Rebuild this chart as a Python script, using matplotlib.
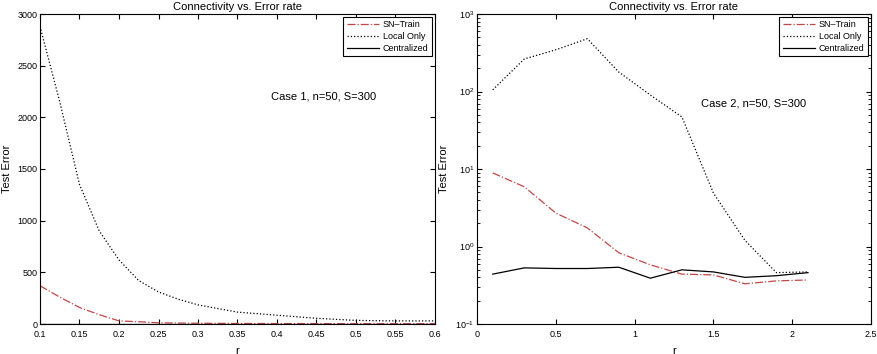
import numpy as np
import matplotlib
matplotlib.use("Agg")
from matplotlib import pyplot as plt

# case 1 (linear y)
r1 = [0.1, 0.125, 0.15, 0.175, 0.2, 0.225, 0.25, 0.275, 0.3, 0.325, 0.35,
      0.375, 0.4, 0.425, 0.45, 0.475, 0.5, 0.525, 0.55, 0.575, 0.6]
sn1 = [370, 260, 160, 90, 30, 22, 12, 9, 7, 6, 5, 5, 4, 4, 4, 3, 3, 3, 3, 3, 3]
local1 = [2880, 2150, 1350, 900, 620, 420, 310, 240, 185, 150, 115,
          100, 85, 70, 55, 45, 35, 32, 30, 30, 30]
cent1 = [3, 3, 3, 3, 3, 3, 3, 3, 3, 3, 3, 3, 3, 3, 3, 3, 3, 3, 3, 3, 3]

# case 2 (log y)
r2 = [0.1, 0.3, 0.5, 0.7, 0.9, 1.1, 1.3, 1.5, 1.7, 1.9, 2.1]
sn2 = [8.9, 5.9, 2.7, 1.74, 0.83, 0.58, 0.44, 0.43, 0.33, 0.36, 0.37]
local2 = [105, 263, 345, 480, 178, 90, 47, 4.9, 1.2, 0.46, 0.47]
cent2 = [0.44, 0.53, 0.52, 0.52, 0.54, 0.39, 0.50, 0.47, 0.40, 0.42, 0.46]

labels = ["SN\u2013Train", "Local Only", "Centralized"]
red = "#c04848"

plt.rcParams['font.family'] = ['Liberation Sans', 'DejaVu Sans']

fig = plt.figure(figsize=(8.78, 3.54), dpi=100)
ax1 = fig.add_axes([40/878, 1-324/354, 395/878, 310/354])
ax2 = fig.add_axes([477/878, 1-324/354, 394/878, 310/354])

for ax in (ax1, ax2):
    ax.tick_params(direction='in', which='both', top=True, right=True, labelsize=6.5, pad=2)
    ax.tick_params(axis='x', pad=4)
    ax.set_title("Connectivity vs. Error rate", fontsize=8, pad=3)
    ax.set_xlabel("r", fontsize=8, labelpad=5)
    ax.set_ylabel("Test Error", fontsize=8)
    ax.yaxis.set_label_coords(-0.07, 0.5)

ax1.plot(r1, sn1, '-.', color=red, lw=0.9, label=labels[0])
ax1.plot(r1, local1, ':', color='black', lw=0.9, label=labels[1])
ax1.plot(r1, cent1, '-', color='black', lw=0.9, label=labels[2])
ax1.set_xlim(0.1, 0.6)
ax1.set_ylim(0, 3000)
ax1.set_xticks(np.arange(0.1, 0.61, 0.05))
ax1.set_xticklabels(["0.1", "0.15", "0.2", "0.25", "0.3", "0.35", "0.4", "0.45", "0.5", "0.55", "0.6"])
ax1.set_yticks(np.arange(0, 3001, 500))
ax1.text(0.393, 2200, "Case 1, n=50, S=300", fontsize=8, va='center')

ax2.plot(r2, sn2, '-.', color=red, lw=0.9, label=labels[0])
ax2.plot(r2, local2, ':', color='black', lw=0.9, label=labels[1])
ax2.plot(r2, cent2, '-', color='black', lw=0.9, label=labels[2])
ax2.set_yscale('log')
ax2.set_xlim(0, 2.5)
ax2.set_ylim(0.1, 1000)
ax2.set_xticks(np.arange(0, 2.51, 0.5))
ax2.set_xticklabels(["0", "0.5", "1", "1.5", "2", "2.5"])
ax2.text(1.42, 71, "Case 2, n=50, S=300", fontsize=8, va='center')

for ax in (ax1, ax2):
    leg = ax.legend(loc='upper right', fontsize=6.5, handlelength=3.6, handletextpad=0.4,
                    borderpad=0.4, labelspacing=0.3, fancybox=False, framealpha=1,
                    borderaxespad=0.3)
    leg.get_frame().set_edgecolor('black')
    leg.get_frame().set_linewidth(0.8)

fig.savefig("out.png", dpi=100)
